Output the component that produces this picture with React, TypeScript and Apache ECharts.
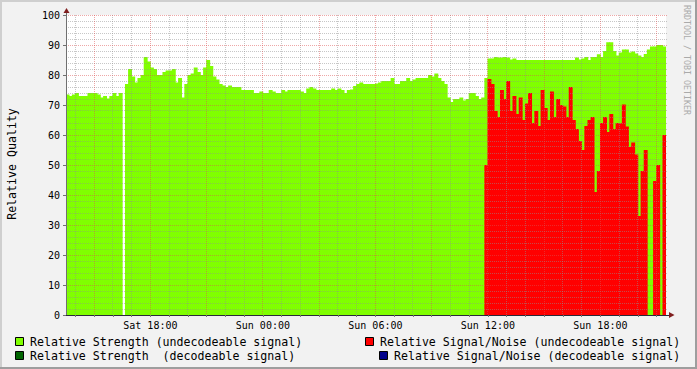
import React, { useEffect, useRef } from 'react';
import * as echarts from 'echarts';

// ---- data ----
const START_MINUTE = 13 * 60 + 30; // Sat 13:30
const STEP_MINUTES = 10;
const DAY_NAMES = ['Sat', 'Sun'];

const strengthUndecodeable: (number | null)[] = [
  73.5, 73, 73.5, 74, 73, 73, 73, 74, 74, 74, 73.5, 72.5,
  73, 72.2, 73, 74, 73, 74, null, 77, 82, 79.5, 77.5, 79,
  80, 86, 84.5, 82.5, 82, 80, 80, 81, 81.5, 81.5, 82, 77.5,
  79, 72.5, 77, 80, 80.5, 82.5, 81, 80, 82.5, 85, 83, 79.5,
  78.5, 77, 76.5, 76, 76.5, 76, 76, 76, 75, 75, 75, 75,
  74, 74, 74.5, 74, 74, 75, 74.5, 74, 74, 75, 74.5, 75,
  75, 75, 75, 74.5, 74, 75.5, 76, 75.5, 75, 75, 75, 75,
  75, 75.5, 75, 75.5, 75, 74, 75, 75.2, 76.3, 77, 77.5, 77,
  77, 77, 77, 77.2, 77.5, 78, 78, 78, 79, 77, 77, 78,
  78, 79, 78, 78.5, 79, 79, 79, 79, 80, 79.5, 80.5, 79,
  78, 77, 72.5, 71, 72, 72, 72.5, 71.5, 72, 74, 74, 73,
  72, 72.5, 79, 85.5, 85.5, 86, 85.8, 85.8, 86, 85.8, 85.2, 85.5,
  85, 85, 85, 85, 85, 85, 85, 85, 85, 85, 85, 85,
  85, 85, 85, 85, 85, 85, 85, 85.8, 85.2, 85.5, 86, 85,
  86, 86, 86.9, 86, 88, 90.9, 90.9, 88, 86.5, 87.5, 88.5, 88.5,
  87.5, 87.8, 87.2, 86.5, 86, 87, 88.5, 89.5, 89.5, 90, 90, 89.5,
];

const snrRecorded: (number | null)[] = [
  50, 78.7, 77, 68, 66, 75, 72, 78, 68, 73,
  67, 72.5, 65, 70.5, 74, 64, 68, 63, 75, 69,
  65, 74.5, 66, 72, 70, 69.5, 66, 76, 65, 62,
  58, 55, 63, 65, 66, 41, 48, 64, 66, 61,
  67, 62, 64, 63.9, 70.2, 62.8, 56, 57.5, 53.5, 33,
  48, 55, null, null, 44.7, 50, null, 60,
];
const snrUndecodeable: (number | null)[] = [
  ...new Array(strengthUndecodeable.length - snrRecorded.length).fill(null),
  ...snrRecorded,
];
const strengthDecodeable: (number | null)[] = strengthUndecodeable.map(() => null);
const snrDecodeable: (number | null)[] = strengthUndecodeable.map(() => null);

const seriesNames = [
  'Relative Strength (undecodeable signal)',
  'Relative Strength  (decodeable signal)',
  'Relative Signal/Noise (undecodeable signal)',
  'Relative Signal/Noise (decodeable signal)',
];
const seriesColors = ['#80ff00', '#006400', '#ff0000', '#00008b'];

const Y_MIN = 0;
const Y_MAX = 100;
const Y_MAJOR_STEP = 10;
const Y_MINOR_STEP = 2;

// ---- derived categories ----
const pad = (n: number) => (n < 10 ? '0' + n : '' + n);
const timeLabel = (min: number) => {
  const d = Math.floor(min / 1440);
  const h = Math.floor((min % 1440) / 60);
  const m = min % 60;
  return `${DAY_NAMES[d]} ${pad(h)}:${pad(m)}`;
};
const binMinutes = strengthUndecodeable.map((_, i) => START_MINUTE + i * STEP_MINUTES);
const edgeMinutes = [...binMinutes, START_MINUTE + binMinutes.length * STEP_MINUTES];
const binCategories = binMinutes.map(timeLabel);
const edgeCategories = edgeMinutes.map(timeLabel);

const FONT = "'DejaVu Sans Mono', monospace";
const MINOR = 'rgba(143,143,143,0.5)';
const MAJOR = 'rgba(222,79,79,0.5)';
const ARROW = '#801f1f';
const BACK = '#f2f2f2';
const SHADE_A = '#cfcfcf';
const SHADE_B = '#9e9e9e';

// area columns drawn through the axes; each column overlaps its neighbours a
// fraction of a pixel so that adjacent columns show no anti-aliasing seams
const makeRenderItem = (color: string) => (params: any, api: any) => {
  const v = api.value(1);
  if (v === null || v === undefined || isNaN(v)) return null;
  const idx = api.value(0);
  const top = api.coord([idx, v]);
  const base = api.coord([idx, 0]);
  const w = api.size([1, 0])[0];
  return {
    type: 'rect',
    shape: { x: top[0] - w / 2 - 0.4, y: top[1], width: w + 0.8, height: base[1] - top[1] },
    style: { fill: color },
  };
};

// dotted grid drawn on top of the areas (as rrdtool does), positioned through the axes
const gridRenderItem = (params: any, api: any) => {
  const xStart = api.coord([0, Y_MIN])[0];
  const xEnd = api.coord([edgeMinutes.length - 1, Y_MIN])[0];
  const yTop = api.coord([0, Y_MAX])[1];
  const yBottom = api.coord([0, Y_MIN])[1];
  const minors: any[] = [];
  const majors: any[] = [];
  for (let v = Y_MIN + Y_MINOR_STEP; v <= Y_MAX; v += Y_MINOR_STEP) {
    const y = Math.floor(api.coord([0, v])[1]) + 0.5;
    const isMajor = v % Y_MAJOR_STEP === 0;
    const el = {
      type: 'line',
      z2: isMajor ? 2 : 1,
      shape: { x1: xStart, y1: y, x2: xEnd + 2, y2: y },
      style: { stroke: isMajor ? MAJOR : MINOR, lineWidth: 1, lineDash: [1, 1] },
    };
    (isMajor ? majors : minors).push(el);
  }
  edgeMinutes.forEach((m, i) => {
    if (m % 60 !== 0) return;
    const x = Math.floor(api.coord([i, Y_MIN])[0]) + 0.5;
    const isMajor = m % 180 === 0;
    const el = {
      type: 'line',
      z2: isMajor ? 2 : 1,
      shape: { x1: x, y1: yTop, x2: x, y2: yBottom },
      style: { stroke: isMajor ? MAJOR : MINOR, lineWidth: 1, lineDash: [1, 1] },
    };
    (isMajor ? majors : minors).push(el);
  });
  return { type: 'group', children: [...minors, ...majors] };
};

export default function App() {
  const ref = useRef<HTMLDivElement>(null);
  useEffect(() => {
    if (!ref.current) return;
    const chart = echarts.init(ref.current, null, { renderer: 'svg' });
    const data = [strengthUndecodeable, strengthDecodeable, snrUndecodeable, snrDecodeable];
    const legendPos = [
      { bx: 15, by: 337, tx: 30, ty: 341.5 },
      { bx: 15, by: 351, tx: 30, ty: 355.5 },
      { bx: 365, by: 337, tx: 380, ty: 341.5 },
      { bx: 379, by: 351, tx: 394, ty: 355.5 },
    ];
    const legendGraphics: any[] = [];
    seriesNames.forEach((name, i) => {
      const p = legendPos[i];
      legendGraphics.push({
        type: 'rect',
        shape: { x: p.bx + 0.5, y: p.by + 0.5, width: 8, height: 8 },
        style: { fill: seriesColors[i], stroke: '#000', lineWidth: 1 },
      });
      legendGraphics.push({
        type: 'text',
        x: p.tx,
        y: p.ty,
        style: {
          text: name,
          fontFamily: FONT,
          fontSize: 11.6,
          fill: '#000',
          align: 'left',
          verticalAlign: 'middle',
        },
      });
    });

    const option: any = {
      animation: false,
      backgroundColor: BACK,
      grid: {
        left: 66,
        top: 15,
        width: 600,
        height: 300,
        show: true,
        backgroundColor: '#ffffff',
        borderWidth: 0,
      },
      xAxis: [
        {
          type: 'category',
          data: binCategories,
          boundaryGap: true,
          show: false,
          position: 'bottom',
        },
        {
          type: 'category',
          data: edgeCategories,
          boundaryGap: false,
          position: 'bottom',
          zlevel: 1,
          z: 12,
          axisLine: { show: true, onZero: false, lineStyle: { color: '#2a2a3a', width: 1 } },
          axisTick: {
            show: true,
            length: 2,
            interval: (i: number) => edgeMinutes[i] % 60 === 0,
            lineStyle: { color: '#777' },
          },
          axisLabel: {
            show: true,
            interval: (i: number) => edgeMinutes[i] % 360 === 0,
            margin: 5,
            fontFamily: FONT,
            fontSize: 10,
            color: '#000',
          },
          splitLine: { show: false },
        },
      ],
      yAxis: [
        {
          type: 'value',
          min: Y_MIN,
          max: Y_MAX,
          interval: Y_MAJOR_STEP,
          position: 'left',
          zlevel: 1,
          z: 12,
          axisLine: { show: true, onZero: false, lineStyle: { color: '#707070' } },
          axisTick: { show: true, length: 3, lineStyle: { color: '#707070' } },
          axisLabel: { margin: 6, fontFamily: FONT, fontSize: 10, color: '#000' },
          splitLine: { show: false },
        },
      ],
      series: [
        ...seriesNames.map((name, i) => ({
          type: 'custom',
          name,
          xAxisIndex: 0,
          yAxisIndex: 0,
          z: 2,
          clip: true,
          encode: { x: 0, y: 1 },
          renderItem: makeRenderItem(seriesColors[i]),
          data: data[i].map((v, k) => [k, v === null ? NaN : v]),
        })),
        {
          type: 'custom',
          name: 'grid',
          xAxisIndex: 1,
          yAxisIndex: 0,
          zlevel: 1,
          z: 10,
          silent: true,
          clip: false,
          encode: { x: 0, y: 1 },
          renderItem: gridRenderItem,
          data: [[0, Y_MIN]],
        },
      ],
      graphic: [
        // frame shading
        { type: 'rect', shape: { x: 0, y: 0, width: 697, height: 2 }, style: { fill: SHADE_A } },
        { type: 'rect', shape: { x: 0, y: 0, width: 2, height: 369 }, style: { fill: SHADE_A } },
        { type: 'rect', shape: { x: 0, y: 367, width: 697, height: 2 }, style: { fill: SHADE_B } },
        { type: 'rect', shape: { x: 695, y: 0, width: 2, height: 369 }, style: { fill: SHADE_B } },
        // axis arrows
        { type: 'line', shape: { x1: 66.5, y1: 12, x2: 66.5, y2: 15 }, style: { stroke: '#707070', lineWidth: 1 } },
        {
          type: 'polygon',
          shape: { points: [[66.5, 8], [63.5, 13], [69.5, 13]] },
          style: { fill: ARROW },
        },
        { type: 'line', shape: { x1: 666, y1: 315.5, x2: 670, y2: 315.5 }, style: { stroke: '#2a2a3a', lineWidth: 1 } },
        {
          type: 'polygon',
          shape: { points: [[674.5, 315], [669, 312], [669, 318]] },
          style: { fill: ARROW },
        },
        // y title
        {
          type: 'text',
          x: 12,
          y: 164,
          rotation: Math.PI / 2,
          style: {
            text: 'Relative Quality',
            fontFamily: FONT,
            fontSize: 11.6,
            fill: '#000',
            align: 'center',
            verticalAlign: 'middle',
          },
        },
        // watermark
        {
          type: 'text',
          x: 687,
          y: 60,
          rotation: -Math.PI / 2,
          style: {
            text: 'RRDTOOL / TOBI OETIKER',
            fontFamily: FONT,
            fontSize: 8.3,
            fill: '#aaaaaa',
            align: 'center',
            verticalAlign: 'middle',
          },
        },
        ...legendGraphics,
      ],
    };
    chart.setOption(option);
    return () => chart.dispose();
  }, []);
  return (
    <div
      ref={ref}
      style={{ position: 'fixed', left: 0, top: 0, width: 697, height: 369 }}
    />
  );
}
